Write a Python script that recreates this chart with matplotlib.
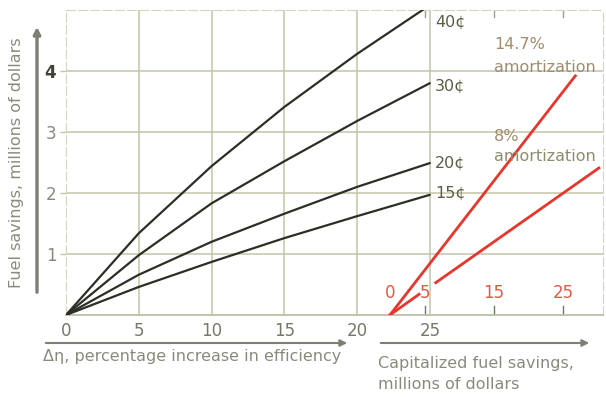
import matplotlib
matplotlib.use("Agg")
import numpy as np
import matplotlib.pyplot as plt
from matplotlib.patches import FancyArrowPatch

plt.rcParams['font.family'] = ['DejaVu Sans']

# efficiency increase (percent) and fuel savings (millions of dollars)
eff = [0, 5, 10, 15, 20, 25]
save_40 = [0, 1.34, 2.44, 3.41, 4.28, 5.08]
save_30 = [0, 0.98, 1.83, 2.52, 3.18, 3.80]
save_20 = [0, 0.66, 1.20, 1.66, 2.10, 2.49]
save_15 = [0, 0.46, 0.87, 1.26, 1.62, 1.97]
curve_labels = ['40¢', '30¢', '20¢', '15¢']
label_y = [4.80, 3.75, 2.49, 2.00]

# capitalized savings (millions) vs annual fuel savings
cap_147 = [0, 26.7]
fuel_147 = [0, 3.92]
cap_8 = [0, 4.2, np.nan, 6.6, 30.1]
fuel_8 = [0, 0.34, np.nan, 0.53, 2.41]
cap_ticks = [0, 5, 15, 25]

# capitalized scale sits on the same axes, origin at x=22.26, 0.477 units per million
CAP_ORIGIN = 22.26
CAP_SCALE = 0.477


def from_cap(c):
    return CAP_ORIGIN + np.asarray(c, dtype=float) * CAP_SCALE


GRID = '#c3c3a8'
BLACK = '#2b2f24'
RED = '#e8362c'
TXT = '#77776a'
TAN = '#a08c6c'

fig = plt.figure(figsize=(6.06, 3.97), dpi=100)
ax = fig.add_axes([66 / 606, 1 - 315 / 397, (603 - 66) / 606, (315 - 10) / 397])
ax.set_xlim(0.14, 36.9)
ax.set_ylim(0, 5.0)

for x in [5, 10, 15, 20, 25]:
    ax.axvline(x, color=GRID, lw=1.1, zorder=1)
for y in [1, 2, 3, 4]:
    ax.axhline(y, color=GRID, lw=1.1, zorder=1)

for side in ['left', 'top', 'right']:
    ax.spines[side].set_color('#d4d4c0')
    ax.spines[side].set_linestyle((0, (8, 3)))
ax.spines['bottom'].set_color('#b8c0a8')
ax.spines['bottom'].set_linewidth(1.3)

for ys in [save_40, save_30, save_20, save_15]:
    ax.plot(eff, ys, color=BLACK, lw=1.6, zorder=3, solid_capstyle='round')

for lab, y in zip(curve_labels, label_y):
    ax.text(25.35, y, lab, color='#5c5c44', fontsize=11.5, va='center', ha='left')

ax.plot(from_cap(cap_147), fuel_147, color=RED, lw=2.0, zorder=3)
ax.plot(from_cap(cap_8), fuel_8, color=RED, lw=2.0, zorder=3)

for c in cap_ticks:
    ax.text(from_cap(c), 0.36, str(c), color='#e45a40', fontsize=12,
            ha='center', va='center')
    if c > 0:
        ax.plot([from_cap(c)] * 2, [0, 0.14], color='#6e7a5e', lw=1)
        ax.plot([from_cap(c)] * 2, [5.0, 4.88], color='#9aa08a', lw=1)

ax.text(29.4, 4.44, '14.7%', color=TAN, fontsize=11.5, ha='left', va='center')
ax.text(29.4, 4.05, 'amortization', color=TAN, fontsize=11.5, ha='left', va='center')
ax.text(29.4, 2.93, '8%', color=TAN, fontsize=11.5, ha='left', va='center')
ax.text(29.4, 2.60, 'amortization', color='#8e8c6a', fontsize=11.5, ha='left', va='center')

ax.set_xticks(eff)
ax.set_xticklabels([str(v) for v in eff])
ax.set_yticks([1, 2, 3, 4])
ax.set_yticklabels(['1', '2', '3', '4'])
ax.tick_params(axis='x', length=0, pad=5, labelsize=12, labelcolor=TXT)
ax.tick_params(axis='y', length=4, width=1, color=GRID, pad=3, labelsize=12,
               labelcolor='#8a8a7c')
ax.get_yticklabels()[3].set_color('#404035')
ax.get_yticklabels()[3].set_fontweight('bold')

# axis arrows and captions
fig.add_artist(FancyArrowPatch(
    (37 / 606, 1 - 295 / 397), (37 / 606, 1 - 24 / 397),
    transform=fig.transFigure, arrowstyle='-|>', color='#7e7e74', lw=2.4,
    mutation_scale=10))
fig.add_artist(FancyArrowPatch(
    (43 / 606, 1 - 343 / 397), (350 / 606, 1 - 343 / 397),
    transform=fig.transFigure, arrowstyle='-|>', color='#7e7e74', lw=1.5,
    mutation_scale=10))
fig.add_artist(FancyArrowPatch(
    (378 / 606, 1 - 343 / 397), (592 / 606, 1 - 343 / 397),
    transform=fig.transFigure, arrowstyle='-|>', color='#7e7e74', lw=1.5,
    mutation_scale=10))

fig.text(17 / 606, 1 - 163 / 397, 'Fuel savings, millions of dollars',
         rotation=90, ha='center', va='center', color='#8a8a7c', fontsize=11.5)
fig.text(43 / 606, 1 - 357 / 397, 'Δη, percentage increase in efficiency',
         ha='left', va='center', color='#8a8a7c', fontsize=11.5)
fig.text(378 / 606, 1 - 374 / 397, 'Capitalized fuel savings,\nmillions of dollars',
         ha='left', va='center', color='#8a8a7c', fontsize=11.5, linespacing=1.45)

fig.savefig('out.png', dpi=100, facecolor='white')
